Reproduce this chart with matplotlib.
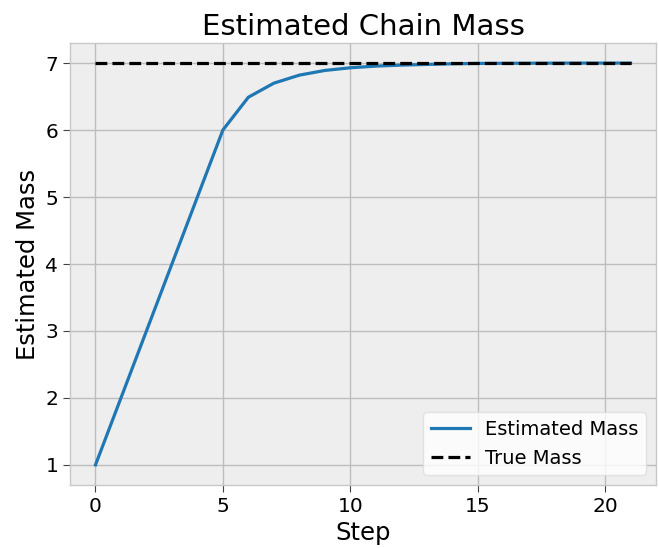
import matplotlib
matplotlib.use("Agg")
import matplotlib.pyplot as plt

# ---------------------------------
# Data
# ---------------------------------
steps = list(range(22))
estimated_mass = [1.0, 2.0, 3.0, 4.0, 5.0, 6.0, 6.49, 6.7, 6.82, 6.89, 6.93,
                  6.955, 6.97, 6.98, 6.99, 6.995, 6.997, 6.998, 6.999, 7.0, 7.0, 7.0]
true_mass = [7.0] * len(steps)

# ---------------------------------
# Plot
# ---------------------------------
fig = plt.figure(figsize=(6.59, 5.48), dpi=100)
ax = fig.add_axes([70 / 659, 1 - 485 / 548, (656 - 70) / 659, (485 - 43) / 548])
ax.set_facecolor("#eeeeee")
for s in ax.spines.values():
    s.set_color("#c8c8c8")
    s.set_linewidth(1)
ax.grid(True, color="#bdbdbd", linewidth=1)
ax.set_axisbelow(True)

ax.plot(steps, estimated_mass, color="#1f77b4", linewidth=2.3, label="Estimated Mass", zorder=2)
ax.plot(steps, true_mass, color="black", linestyle="--", linewidth=2.3, label="True Mass", zorder=3)

ax.set_title("Estimated Chain Mass", fontsize=21)
ax.set_xlabel("Step", fontsize=17.5)
ax.set_ylabel("Estimated Mass", fontsize=17.5)
ax.tick_params(labelsize=14.5, length=5, color="#444444")
ax.set_xticks([0, 5, 10, 15, 20])
ax.set_yticks([1, 2, 3, 4, 5, 6, 7])
ax.set_xlim(-1.0, 22.0)

ax.legend(loc="lower right", fontsize=14, framealpha=0.8, facecolor="white",
          edgecolor="#dddddd")

fig.savefig("out.png", dpi=100)
